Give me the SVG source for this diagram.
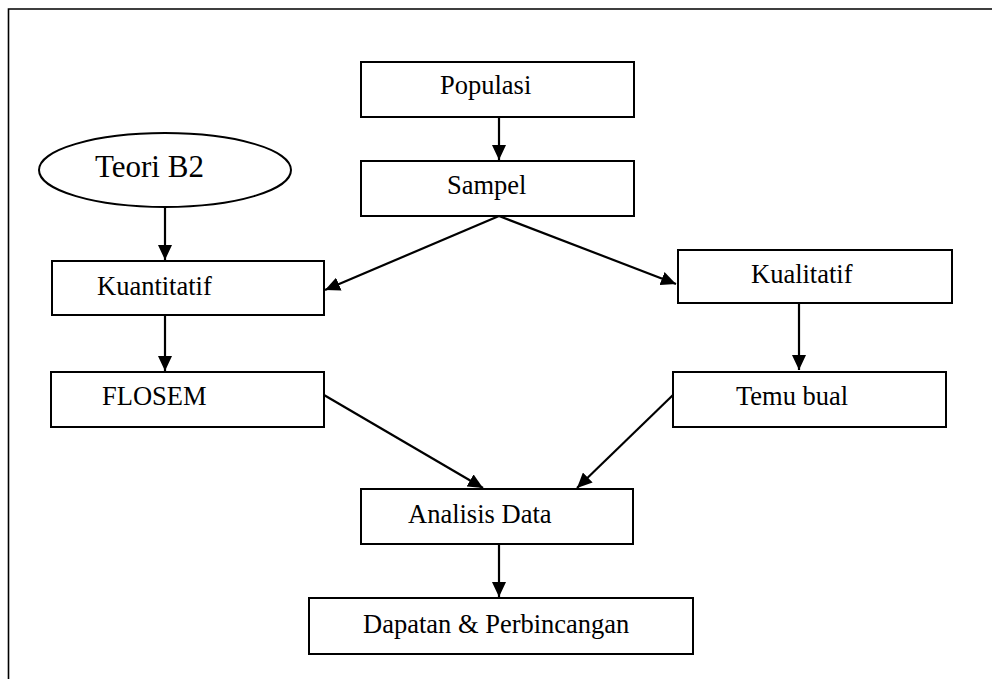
<svg xmlns="http://www.w3.org/2000/svg" width="992" height="679" viewBox="0 0 992 679">
<style>
.box{fill:#fff;stroke:#000;stroke-width:2}
.t{font-family:"Liberation Serif","Times New Roman",serif;font-size:26.5px;fill:#000}
.c{stroke:#000;stroke-width:2.2;fill:none;marker-end:url(#ah)}
</style>
<defs>
<marker id="ah" markerUnits="userSpaceOnUse" markerWidth="16" markerHeight="14" refX="15" refY="7" orient="auto">
<path d="M0,0 L15,7 L0,14 z" fill="#000"/>
</marker>
</defs>
<rect width="992" height="679" fill="#fff"/>
<path d="M8.5,679 V9 H992" fill="none" stroke="#000" stroke-width="1.6"/>
<g id="populasi"><rect class="box" x="361" y="62" width="273" height="55"/><text class="t" x="440" y="94">Populasi</text></g>
<g id="sampel"><rect class="box" x="361" y="161" width="273" height="55"/><text class="t" x="447" y="194">Sampel</text></g>
<g id="teori"><ellipse class="box" cx="165" cy="170" rx="126" ry="37"/><text class="t" x="95" y="177" style="font-size:31px">Teori B2</text></g>
<g id="kuantitatif"><rect class="box" x="52" y="261" width="272" height="54"/><text class="t" x="97" y="295">Kuantitatif</text></g>
<g id="kualitatif"><rect class="box" x="678" y="250" width="274" height="53"/><text class="t" x="751" y="283">Kualitatif</text></g>
<g id="flosem"><rect class="box" x="51" y="372" width="273" height="55"/><text class="t" x="102" y="405">FLOSEM</text></g>
<g id="temubual"><rect class="box" x="673" y="372" width="273" height="55"/><text class="t" x="736" y="405">Temu bual</text></g>
<g id="analisis"><rect class="box" x="361" y="489" width="272" height="55"/><text class="t" x="408" y="523">Analisis Data</text></g>
<g id="dapatan"><rect class="box" x="309" y="598" width="384" height="56"/><text class="t" x="363" y="633">Dapatan &amp; Perbincangan</text></g>
<g id="connectors">
<line class="c" x1="499" y1="117" x2="499" y2="160"/>
<line class="c" x1="165" y1="207" x2="165" y2="260"/>
<line class="c" x1="499" y1="216" x2="325" y2="290"/>
<line class="c" x1="499" y1="216" x2="676" y2="284"/>
<line class="c" x1="165" y1="315" x2="165" y2="371"/>
<line class="c" x1="799" y1="303" x2="799" y2="370"/>
<line class="c" x1="324" y1="395" x2="483" y2="488"/>
<line class="c" x1="673" y1="395" x2="577" y2="488"/>
<line class="c" x1="499" y1="544" x2="499" y2="597"/>
</g>
</svg>
